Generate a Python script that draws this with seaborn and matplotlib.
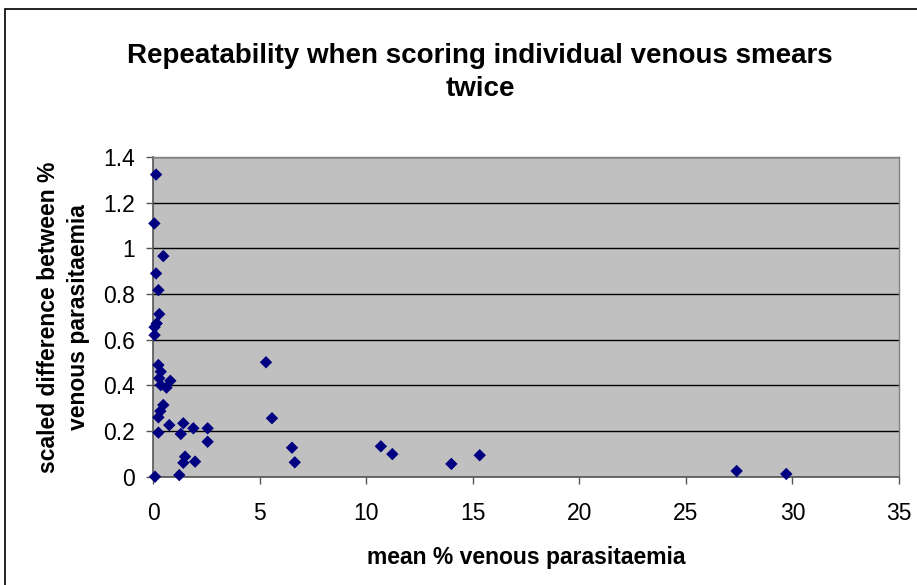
import pandas as pd
import matplotlib.pyplot as plt
import seaborn as sns
from matplotlib.patches import Rectangle
from matplotlib.ticker import FuncFormatter

sns.set_style("white")
plt.rcParams['font.family'] = ['Liberation Sans', 'DejaVu Sans']
plt.rcParams['text.color'] = 'black'

# mean % venous parasitaemia vs scaled difference
mean_para = [0.13, 0.05, 0.47, 0.13, 0.24, 0.28, 0.16, 0.06, 0.06, 0.24,
             0.35, 0.28, 0.35, 0.62, 0.80, 0.47, 0.33, 0.24, 0.24, 0.75,
             1.41, 1.29, 1.88, 2.55, 2.55, 1.49, 1.41, 1.96, 0.08, 1.22,
             5.29, 5.57, 6.51, 6.64, 10.68, 11.22, 13.99, 15.32, 27.38, 29.71]
scaled_diff = [1.323, 1.109, 0.966, 0.890, 0.817, 0.712, 0.671, 0.655, 0.620, 0.489,
               0.460, 0.431, 0.401, 0.390, 0.420, 0.314, 0.287, 0.260, 0.193, 0.226,
               0.234, 0.187, 0.212, 0.212, 0.153, 0.088, 0.061, 0.066, 0.000, 0.007,
               0.501, 0.256, 0.127, 0.063, 0.133, 0.099, 0.056, 0.094, 0.025, 0.012]

x_ticks = [0, 5, 10, 15, 20, 25, 30, 35]
y_ticks = [0, 0.2, 0.4, 0.6, 0.8, 1.0, 1.2, 1.4]

df = pd.DataFrame({"mean": mean_para, "diff": scaled_diff})

fig = plt.figure(figsize=(9.17, 5.85), dpi=100)
ax = fig.add_axes([153.3 / 917, 1 - 476.7 / 585, 745.7 / 917, 319.7 / 585])
ax.set_facecolor("#C0C0C0")

# ---- scatter ----
sns.scatterplot(data=df, x="mean", y="diff", ax=ax, marker="D", s=40,
                color="#000080", edgecolor="none", linewidth=0, zorder=3, clip_on=False)

ax.set_xlim(0, 35)
ax.set_ylim(0, 1.4)
ax.set_xticks(x_ticks)
ax.set_yticks(y_ticks)
ax.yaxis.set_major_formatter(FuncFormatter(lambda v, p: "%g" % round(v, 1)))
ax.grid(axis="y", color="black", linewidth=1)
ax.set_axisbelow(True)

for side in ["top", "right"]:
    ax.spines[side].set_color("#808080")
    ax.spines[side].set_linewidth(1)
for side in ["left", "bottom"]:
    ax.spines[side].set_color("#555555")
    ax.spines[side].set_linewidth(1.2)

ax.tick_params(axis="both", direction="out", length=5, width=1, color="#555555",
               labelsize=16.5, labelcolor="black")
ax.tick_params(axis="x", pad=13, bottom=True)
ax.tick_params(axis="y", pad=8, left=True)

ax.set_xlabel("mean % venous parasitaemia", fontsize=16.5, fontweight="bold", color="black")
ax.xaxis.set_label_coords(0.5, -0.2175)
ax.set_ylabel("scaled difference between %\nvenous parasitaemia", fontsize=16.5,
              fontweight="bold", linespacing=1.4, color="black")
ax.yaxis.set_label_coords(-0.085, 0.5)

fig.text(480 / 917, 1 - 43 / 585, "Repeatability when scoring individual venous smears\ntwice",
         ha="center", va="top", fontsize=20, fontweight="bold", linespacing=1.37, color="black")

# chart border
fig.patches.append(Rectangle((5 / 917, -0.1), 1.2, 1 - 9 / 585 + 0.1, transform=fig.transFigure,
                             fill=False, edgecolor="black", linewidth=1.2))

fig.savefig("out.png", dpi=100)
